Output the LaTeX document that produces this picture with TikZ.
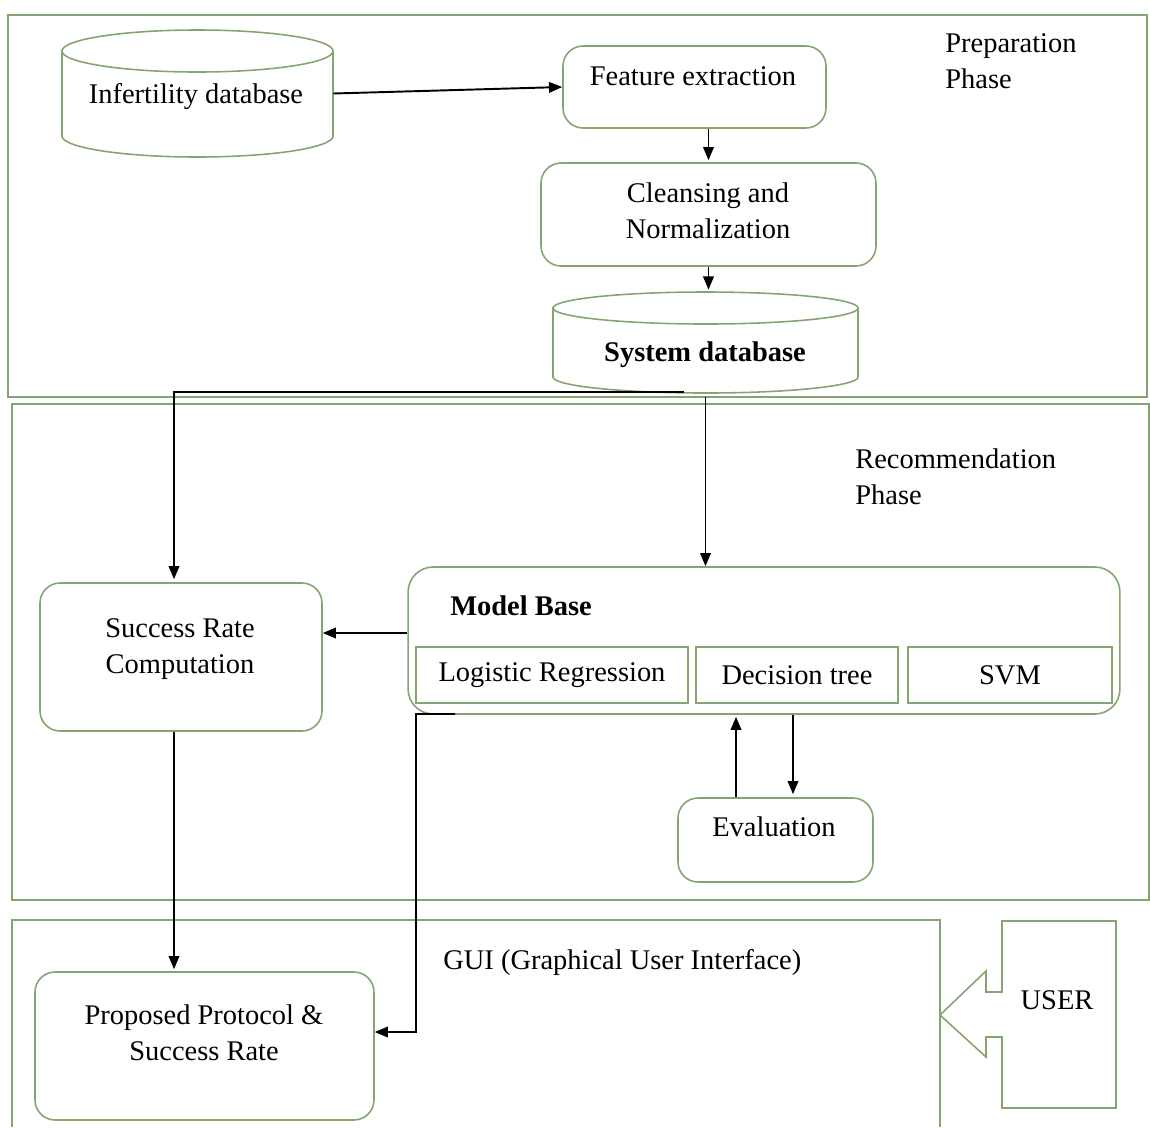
\documentclass[tikz,border=0pt]{standalone}
\usepackage{fontspec}
\setmainfont{Liberation Serif}
\usetikzlibrary{arrows.meta,calc}
\definecolor{gline}{RGB}{132,164,114}
\begin{document}
\begin{tikzpicture}[x=0.02cm,y=0.02cm,
 frame/.style={draw=gline,line width=0.9pt},
 rbox/.style={draw=gline,line width=0.9pt,rounded corners=0.4cm,inner sep=0pt},
 sbox/.style={draw=gline,line width=0.9pt,inner sep=0pt,font=\fontsize{16.2}{20.4}\selectfont},
 txt/.style={font=\fontsize{16.2}{20.4}\selectfont,align=center,inner sep=0pt},
 conn/.style={draw=black,line width=1.1pt,-{Triangle[length=7.5pt,width=6pt]}},
 ]
\useasboundingbox (0,0) rectangle (1150,-1127);
% phase frames
\draw[frame] (8,-15) rectangle (1147,-397);
\draw[frame] (12,-404) rectangle (1149,-900);
\draw[frame] (12,-1127) -- (12,-920) -- (940,-920) -- (940,-1127);
\node[txt,align=left,anchor=west] (prep) at (945,-61) {Preparation\\Phase};
\node[txt,align=left,anchor=west] (rec) at (855,-477) {Recommendation\\Phase};
\node[txt,anchor=west] (gui) at (443,-962) {GUI (Graphical User Interface)};
% infertility database cylinder
\node[txt,minimum width=5.42cm,minimum height=2.54cm] (infdb) at (197.5,-93.5) {};
\node[txt] (infdbt) at (196,-97) {Infertility database};
\draw[frame] (62,-51) -- (62,-136) arc[start angle=180,end angle=360,x radius=135.5,y radius=21]
  -- (333,-51) arc[start angle=0,end angle=180,x radius=135.5,y radius=21] -- cycle;
\draw[frame] (62,-51) arc[start angle=180,end angle=360,x radius=135.5,y radius=21];
% feature extraction
\node[rbox,minimum width=5.26cm,minimum height=1.64cm] (fe) at (694.5,-87) {};
\node[txt] (fet) at (693,-76) {Feature extraction};
% cleansing
\node[rbox,minimum width=6.7cm,minimum height=2.06cm] (cn) at (708.5,-214.5) {};
\node[txt] (cnt) at (708,-211) {Cleansing and\\Normalization};
% system database cylinder
\node[txt,minimum width=6.1cm,minimum height=2.02cm] (sysdb) at (705.5,-342.5) {};
\node[txt,font=\fontsize{16.2}{20.4}\selectfont\bfseries] (sysdbt) at (705,-355) {System database};
\draw[frame] (553,-308) -- (553,-377) arc[start angle=180,end angle=360,x radius=152.5,y radius=16]
  -- (858,-308) arc[start angle=0,end angle=180,x radius=152.5,y radius=16] -- cycle;
\draw[frame] (553,-308) arc[start angle=180,end angle=360,x radius=152.5,y radius=16];
% success rate computation
\node[rbox,minimum width=5.64cm,minimum height=2.96cm] (src) at (181,-657) {};
\node[txt] (srct) at (180,-649) {Success Rate\\Computation};
% model base
\node[rbox,rounded corners=0.5cm,minimum width=14.24cm,minimum height=2.94cm] (mb) at (764,-640.5) {};
\node[txt,font=\fontsize{16.2}{20.4}\selectfont\bfseries] (mbt) at (521,-606) {Model Base};
\node[sbox,minimum width=5.44cm,minimum height=1.12cm] (lr) at (552,-675) {Logistic Regression};
\node[sbox,minimum width=4.04cm,minimum height=1.12cm] (dt) at (797,-675) {Decision tree};
\node[sbox,minimum width=4.08cm,minimum height=1.12cm] (svm) at (1010,-675) {SVM};
% evaluation
\node[rbox,minimum width=3.9cm,minimum height=1.68cm] (ev) at (775.5,-840) {};
\node[txt] (evt) at (774,-827) {Evaluation};
% proposed protocol
\node[rbox,minimum width=6.78cm,minimum height=2.96cm] (pp) at (204.5,-1046) {};
\node[txt] (ppt) at (204,-1033) {Proposed Protocol \&\\Success Rate};
% user
\draw[frame] (1002,-921) -- (1116,-921) -- (1116,-1108) -- (1002,-1108) -- (1002,-1037)
  -- (986,-1037) -- (986,-1057) -- (940,-1015) -- (986,-971) -- (986,-992) -- (1002,-992) -- cycle;
\node[txt] (user) at (1057,-1000) {USER};
% connectors
\coordinate (mbout) at (455,-714);
\coordinate (turn) at (416,-1032);
\draw[conn] (infdb.east) -- (fe.west);
\draw[conn] (cn.north |- fe.south) -- ([yshift=0.04cm]cn.north);
\draw[conn] (cn.south) -- ([yshift=0.04cm]cn.south |- sysdb.north);
\draw[conn] ($(sysdb.south)+(-22,1)$) -| ([xshift=-0.14cm,yshift=0.06cm]src.north);
\draw[conn] ([yshift=-0.08cm]sysdb.south) -- (sysdb.south |- mb.north);
\draw[conn] ([yshift=0.15cm]mb.west) -- ([yshift=0.15cm]mb.west -| src.east);
\draw[conn] (mbout) -| (turn) -- ([yshift=0.28cm]pp.east);
\draw[conn] ([xshift=-0.79cm]ev.north) -- ([xshift=-0.79cm,yshift=-0.04cm]ev.north |- mb.south);
\draw[conn] ([xshift=0.35cm]ev.north |- mb.south) -- ([xshift=0.35cm,yshift=0.06cm]ev.north);
\draw[conn] ([xshift=-0.14cm]src.south) -- ([xshift=-0.14cm,yshift=0.04cm]src.south |- pp.north);
\end{tikzpicture}
\end{document}
